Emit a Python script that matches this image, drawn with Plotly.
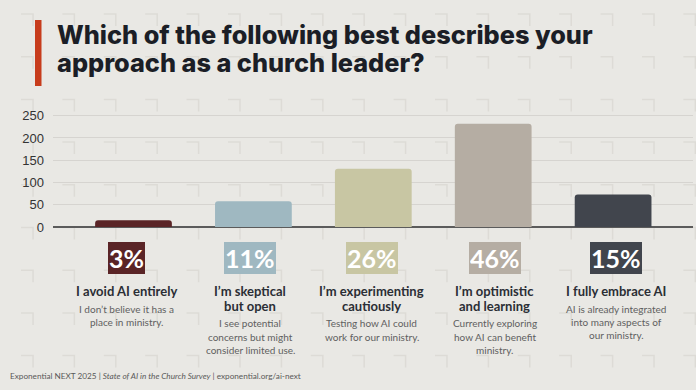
import plotly.graph_objects as go

# ---------------- data ----------------
counts = [15, 58, 131, 232, 73]
percents = ["3%", "11%", "26%", "46%", "15%"]
headings = [
    ["I avoid AI entirely"],
    ["I’m skeptical", "but open"],
    ["I’m experimenting", "cautiously"],
    ["I’m optimistic", "and learning"],
    ["I fully embrace AI"],
]
descriptions = [
    ["I don’t believe it has a", "place in ministry."],
    ["I see potential", "concerns but might", "consider limited use."],
    ["Testing how AI could", "work for our ministry."],
    ["Currently exploring", "how AI can benefit", "ministry."],
    ["AI is already integrated", "into many aspects of", "our ministry."],
]
colors = ["#5a2426", "#9fb8c1", "#c8c6a3", "#b5ada3", "#41454d"]
y_ticks = [0, 50, 100, 150, 200, 250]
title_lines = ["Which of the following best describes your", "approach as a church leader?"]
footer = ("Exponential NEXT 2025 | <i>State of AI in the Church Survey</i> | "
          "exponential.org/ai-next")

# ---------------- layout geometry (pixels) ----------------
Wfig, Hfig = 696, 390
L, R = 53, 693
T, B = 106, 227
PW, PH = R - L, B - T
BG = "#e9e8e4"


def xp(px):
    return (px - L) / PW


def yp(py):
    return (B - py) / PH


x_idx = list(range(len(counts)))

fig = go.Figure()
fig.add_trace(go.Bar(
    x=x_idx, y=counts, marker=dict(color=colors, line=dict(width=0)),
    width=0.64, hoverinfo="skip",
))

ann = []
shapes = []

# background corner-mark pattern
path = ""
for k in range(17):
    for j in range(9):
        xe = 33 + 41.4 * k
        yt = 14 + 42.7 * j
        path += "M{:.4f},{:.4f}L{:.4f},{:.4f}L{:.4f},{:.4f}".format(
            xp(xe - 12), yp(yt), xp(xe), yp(yt), xp(xe), yp(yt + 12))
shapes.append(dict(type="path", xref="paper", yref="paper", path=path,
                   line=dict(color="#dddbd6", width=1.5), layer="below"))

# red accent bar
shapes.append(dict(type="rect", xref="paper", yref="paper",
                   x0=xp(35), x1=xp(41.5), y0=yp(86), y1=yp(20),
                   fillcolor="#c73c1c", line=dict(width=0), layer="above"))


def line_text(text, baseline, size, color, weight=400, family="Lato",
              x=None, xref="paper", xanchor="center", xshift=0):
    ann.append(dict(
        text=text, xref=xref, x=x, yref="paper",
        y=yp(baseline - 0.36 * size), yanchor="middle", xanchor=xanchor,
        xshift=xshift, showarrow=False,
        font=dict(family=family, size=size, color=color, weight=weight),
    ))


# title
for i, t in enumerate(title_lines):
    line_text(t, 43.3 + 28.4 * i, 25.3, "#1b1e26", weight=800, family="Inter",
              x=xp(55), xanchor="left")

label_shift = [-7.5, -3, -1.5, 1.5, 3]
for i in x_idx:
    # percent box
    ann.append(dict(
        text="<b>" + percents[i] + "</b>", xref="x", x=i, yref="paper",
        y=yp(257.8), yanchor="middle", xanchor="center", xshift=label_shift[i],
        showarrow=False, bgcolor=colors[i], bordercolor=colors[i],
        borderwidth=1, borderpad=0, height=30,
        font=dict(family="Lato", size=25, color="white"),
    ))
    # headings
    base = 296
    for j, h in enumerate(headings[i]):
        line_text(h, base + 14.3 * j, 13, "#2b2e35", weight=700, x=i,
                  xref="x", xshift=label_shift[i])
    last = base + 14.3 * (len(headings[i]) - 1)
    for j, d in enumerate(descriptions[i]):
        line_text(d, last + 16.7 + 13.2 * j, 10, "#606060", x=i, xref="x",
                  xshift=label_shift[i])

# footer
line_text(footer, 379, 8.2, "#595959", x=xp(8), xanchor="left")

fig.update_layout(
    width=Wfig, height=Hfig,
    margin=dict(l=L, r=Wfig - R, t=T, b=Hfig - B, pad=0),
    paper_bgcolor=BG, plot_bgcolor="rgba(0,0,0,0)",
    showlegend=False, barcornerradius=3,
    xaxis=dict(range=[(L - 133.5) / 119.9, (R - 133.5) / 119.9],
               showticklabels=False, showgrid=False, zeroline=False,
               fixedrange=True),
    yaxis=dict(range=[0, 250 * (B - T) / (B - 115.7)], tickvals=y_ticks,
               showgrid=True, gridcolor="#d6d4d0", gridwidth=1.2,
               zeroline=True, zerolinecolor="#5b5b5b", zerolinewidth=1.5,
               tickfont=dict(family="Liberation Sans", size=13, color="#333333"),
               ticks="", ticklabelstandoff=8, fixedrange=True),
    annotations=ann, shapes=shapes,
)

fig.write_html("out.html")
